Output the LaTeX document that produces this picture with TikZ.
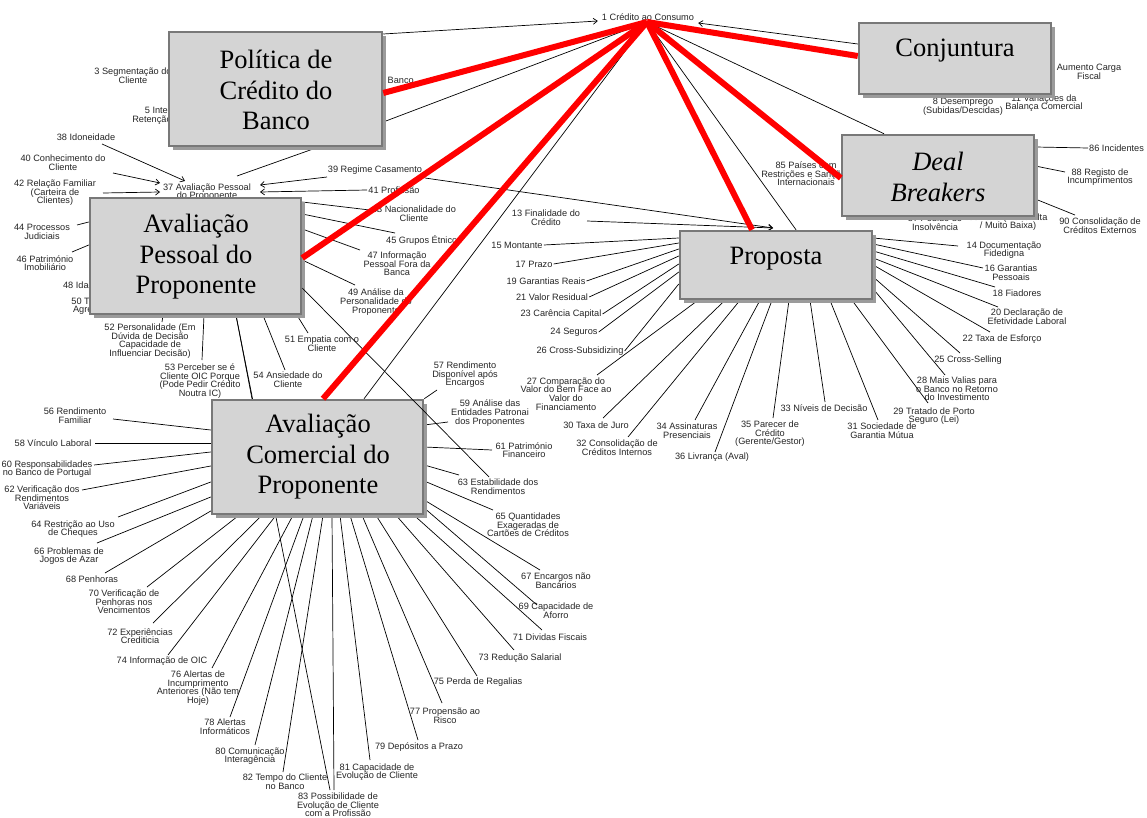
\documentclass[tikz,border=0pt]{standalone}
\usepackage{fontspec}
\setmainfont{Liberation Serif}
\newfontfamily\labfam{Liberation Sans}
\usetikzlibrary{shadows,arrows.meta}
\pgfdeclarelayer{background}
\pgfdeclarelayer{foreground}
\pgfsetlayers{background,main,foreground}
\definecolor{boxfill}{RGB}{212,212,212}
\definecolor{boxline}{RGB}{120,120,120}
\definecolor{shadowc}{RGB}{155,155,155}
\newcommand\labf{\labfam\fontsize{9.2}{8.6}\selectfont\lineskiplimit=-20pt\relax}
\newcommand\bigf{\fontsize{26.5}{30.5}\selectfont\lineskiplimit=-40pt\relax}
\begin{document}
\begin{tikzpicture}[x=1pt,y=-1pt,
  lab/.style={font=\labf, align=center, inner sep=1pt, text=black!85},
  conn/.style={draw=black, line width=0.7pt},
  arr/.style={conn, -{Straight Barb[length=4pt,width=6pt]}},
  redl/.style={draw=red, line width=6pt},
  bigbox/.style={draw=boxline, line width=2.5pt, fill=boxfill, inner sep=0pt,
     drop shadow={shadow xshift=4pt, shadow yshift=-4pt, fill=shadowc, opacity=1}},
  bigtext/.style={font=\bigf, align=center, inner sep=0pt}
]
\useasboundingbox (0,0) rectangle (1147,818);

% ---------- boxes ----------
\node[bigbox, minimum width=213pt, minimum height=114pt] (pol) at (275.5,89) {};
\node[bigbox, minimum width=192pt, minimum height=71pt] (con) at (955,58.5) {};
\node[bigbox, minimum width=192pt, minimum height=81pt] (deal) at (938,175.5) {};
\node[bigbox, minimum width=211pt, minimum height=116pt] (pp) at (195.5,256) {};
\node[bigbox, minimum width=192pt, minimum height=68pt] (pro) at (776,265) {};
\node[bigbox, minimum width=211pt, minimum height=114pt] (pc) at (317.5,457) {};

\node[bigtext] (polt) at (276,90) {Política de\\Crédito do\\Banco};
\node[bigtext] (cont) at (955,51) {Conjuntura};
\node[bigtext, font=\bigf\itshape] (dealt) at (938,177) {Deal\\Breakers};
\node[bigtext] (prot) at (776,259) {Proposta};
\node[bigtext] (ppt) at (196,257) {Avaliação\\Pessoal do\\Proponente};
\node[bigtext] (pct) at (318,457) {Avaliação\\Comercial do\\Proponente};

\coordinate (hub) at (647,22);
\coordinate (p12) at (773,228);

\begin{pgfonlayer}{background}
\fill[white] (0,0) rectangle (1147,818);
% ---------- labels ----------
\node[lab] (n1) at (648,17) {1 Crédito ao Consumo};
\node[lab] (l3) at (133,76) {3 Segmentação do\\Cliente};
\node[lab] (l5) at (174,116) {5 Interesse na\\Retenção do Cliente};
\node[lab, anchor=east] (l4) at (415,80) {Banco};
\node[lab] (l7) at (1089,72) {Aumento Carga\\Fiscal};
\node[lab] (l8) at (963,107) {8 Desemprego\\(Subidas/Descidas)};
\node[lab] (l11) at (1044,103) {11 Variações da\\Balança Comercial};
\node[lab] (l85) at (806,174) {85 Países com\\Restrições e Sanções\\Internacionais};
\node[lab, anchor=west] (l86) at (1088,148) {86 Incidentes};
\node[lab] (l88) at (1100,177) {88 Registo de\\Incumprimentos};
\node[lab] (l90) at (1100,226) {90 Consolidação de\\Créditos Externos};
\node[lab] (l87) at (935,223) {87 Pedido de\\Insolvência};
\node[lab] (l89) at (1008,222) {89 Taxa (Muito Alta\\/ Muito Baixa)};

\node[lab] (l37) at (207,192) {37 Avaliação Pessoal\\do Proponente};
\node[lab] (l38) at (86,137) {38 Idoneidade};
\node[lab] (l40) at (63,163) {40 Conhecimento do\\Cliente};
\node[lab] (l42) at (55,193) {42 Relação Familiar\\(Carteira de\\Clientes)};
\node[lab] (l39) at (375,170) {39 Regime Casamento};
\node[lab] (l41) at (394,190) {41 Profissão};
\node[lab] (l43) at (414,214) {43 Nacionalidade do\\Cliente};
\node[lab] (l45) at (424,240) {45 Grupos Étnicos};
\node[lab] (l47) at (397,264) {47 Informação\\Pessoal Fora da\\Banca};
\node[lab] (l49) at (376,302) {49 Análise da\\Personalidade do\\Proponente};
\node[lab] (l51) at (322,344) {51 Empatia com o\\Cliente};
\node[lab] (l54) at (288,380) {54 Ansiedade do\\Cliente};
\node[lab] (l52) at (150,341) {52 Personalidade (Em\\Dúvida de Decisão\\Capacidade de\\Influenciar Decisão)};
\node[lab] (l53) at (200,381) {53 Perceber se é\\Cliente OIC Porque\\(Pode Pedir Crédito\\Noutra IC)};
\node[lab] (l44) at (42,232) {44 Processos\\Judiciais};
\node[lab] (l46) at (45,263) {46 Património\\Imobiliário};
\node[lab] (l48) at (81,285) {48 Idade};
\node[lab] (l50) at (93,306) {50 Tipo de\\Agregado};

\node[lab] (l56) at (75,416) {56 Rendimento\\Familiar};
\node[lab] (l58) at (53,443) {58 Vínculo Laboral};
\node[lab] (l60) at (47,469) {60 Responsabilidades\\no Banco de Portugal};
\node[lab] (l62) at (42,498) {62 Verificação dos\\Rendimentos\\Variáveis};
\node[lab] (l64) at (73,529) {64 Restrição ao Uso\\de Cheques};
\node[lab] (l66) at (69,556) {66 Problemas de\\Jogos de Azar};
\node[lab] (l68) at (92,579) {68 Penhoras};
\node[lab] (l70) at (124,602) {70 Verificação de\\Penhoras nos\\Vencimentos};
\node[lab] (l72) at (140,636) {72 Experiências\\Crediticia};
\node[lab] (l74) at (162,661) {74 Informação de OIC};
\node[lab] (l76) at (198,688) {76 Alertas de\\Incumprimento\\Anteriores (Não tem\\Hoje)};
\node[lab] (l78) at (225,727) {78 Alertas\\Informáticos};
\node[lab] (l80) at (250,756) {80 Comunicação\\Interagência};
\node[lab] (l82) at (285,782) {82 Tempo do Cliente\\no Banco};
\node[lab] (l83) at (338,805) {83 Possibilidade de\\Evolução de Cliente\\com a Profissão};
\node[lab] (l81) at (377,772) {81 Capacidade de\\Evolução de Cliente};
\node[lab] (l79) at (419,747) {79 Depósitos a Prazo};
\node[lab] (l77) at (445,716) {77 Propensão ao\\Risco};
\node[lab] (l75) at (478,682) {75 Perda de Regalias};
\node[lab] (l73) at (520,658) {73 Redução Salarial};
\node[lab] (l71) at (550,637) {71 Dividas Fiscais};
\node[lab] (l69) at (556,611) {69 Capacidade de\\Aforro};
\node[lab] (l67) at (556,581) {67 Encargos não\\Bancários};
\node[lab] (l65) at (528,525) {65 Quantidades\\Exageradas de\\Cartões de Créditos};
\node[lab] (l63) at (498,487) {63 Estabilidade dos\\Rendimentos};
\node[lab] (l61) at (524,450) {61 Património\\Financeiro};
\node[lab] (l59) at (490,413) {59 Análise das\\Entidades Patronai\\dos Proponentes};
\node[lab] (l57) at (465,375) {57 Rendimento\\Disponível após\\Encargos};

\node[lab] (l13) at (546,218) {13 Finalidade do\\Crédito};
\node[lab] (l15) at (517,245) {15 Montante};
\node[lab] (l17) at (534,264) {17 Prazo};
\node[lab] (l19) at (546,281) {19 Garantias Reais};
\node[lab] (l21) at (552,297) {21 Valor Residual};
\node[lab] (l23) at (561,314) {23 Carência Capital};
\node[lab] (l24) at (574,332) {24 Seguros};
\node[lab] (l26) at (580,351) {26 Cross-Subsidizing};
\node[lab] (l27) at (566,394) {27 Comparação do\\Valor do Bem Face ao\\Valor do\\Financiamento};
\node[lab] (l30) at (596,425) {30 Taxa de Juro};
\node[lab] (l32) at (617,448) {32 Consolidação de\\Créditos Internos};
\node[lab] (l34) at (687,431) {34 Assinaturas\\Presenciais};
\node[lab] (l36) at (712,457) {36 Livrança (Aval)};
\node[lab] (l35) at (770,434) {35 Parecer de\\Crédito\\(Gerente/Gestor)};
\node[lab] (l33) at (824,408) {33 Níveis de Decisão};
\node[lab] (l31) at (882,431) {31 Sociedade de\\Garantia Mútua};
\node[lab] (l29) at (934,416) {29 Tratado de Porto\\Seguro (Lei)};
\node[lab] (l28) at (957,389) {28 Mais Valias para\\o Banco no Retorno\\do Investimento};
\node[lab] (l25) at (968,360) {25 Cross-Selling};
\node[lab] (l22) at (1002,339) {22 Taxa de Esforço};
\node[lab] (l20) at (1027,317) {20 Declaração de\\Efetividade Laboral};
\node[lab] (l18) at (1017,293) {18 Fiadores};
\node[lab] (l16) at (1011,273) {16 Garantias\\Pessoais};
\node[lab] (l14) at (1004,250) {14 Documentação\\Fidedigna};

% ---------- thin connectors ----------
\draw[arr] (pol.east |- 0,34) -- ([shift={(-3,4)}]n1.west);
\draw[arr] (con.west |- 0,44) -- ([shift={(3,6)}]n1.east);
\draw[conn] (pol.east |- 0,122) -- (hub);
\draw[conn] (hub) -- (deal.north -| 884,0);
\draw[conn] (hub) -- (pro.north -| 796,0);
\draw[conn] (hub) -- (pc.north -| 364,0);

\draw[conn] (deal.east |- 0,147) -- (l86.west);
\draw[conn] (deal.east |- 0,166) -- ([shift={(-35,-5)}]l88.center);
\draw[conn] (deal.east |- 0,199) -- ([shift={(-25,-11)}]l90.center);

\draw[arr] ([shift={(16,7)}]l38.center) -- ([shift={(-22,-11)}]l37.center);
\draw[arr] ([shift={(50,10)}]l40.center) -- ([shift={(-47,-9)}]l37.center);
\draw[arr] ([shift={(48,0)}]l42.center) -- ([shift={(-47,0)}]l37.center);
\draw[arr] ([shift={(-48,7)}]l39.center) -- ([shift={(53,-7)}]l37.center);
\draw[arr] (l41.west) -- ([shift={(53,0)}]l37.center);
\draw[conn] ([shift={(30,-16)}]l37.center) -- (pol.south -| 318,0);
\draw[arr] ([shift={(50,8)}]l39.center) -- (p12);
\draw[arr] ([shift={(41,3)}]l13.center) -- (p12);

\draw[conn] (pp.east |- 0,202) -- ([shift={(-36,-3)}]l43.center);
\draw[conn] (pp.east |- 0,214) -- ([shift={(-29,-7)}]l45.center);
\draw[conn] (pp.east |- 0,229) -- ([shift={(-37,-14)}]l47.center);
\draw[conn] (pp.east |- 0,260) -- ([shift={(-21,-17)}]l49.center);
\draw[conn] (pp.south -| 297,0) -- ([shift={(-14,-11)}]l51.center);
\draw[conn] (pp.south -| 263,0) -- ([shift={(-3,-10)}]l54.center);
\draw[conn] (pp.south -| 163,0) -- ([shift={(12,-19)}]l52.center);
\draw[conn] (pp.south -| 204,0) -- ([shift={(2,-21)}]l53.center);
\draw[conn] ([shift={(35,-7)}]l44.center) -- (pp.west |- 0,222);
\draw[conn] ([shift={(27,-11)}]l46.center) -- (pp.west |- 0,245);
\draw[conn] (pp.south -| 236,0) -- (pc.north -| 252,0);
\draw[conn] (pp.south -| 236,0) -- ([shift={(-8,-15)}]l83.center);

\draw[conn] (pc.north east) -- ([shift={(-28,15)}]l57.center);
\draw[conn] (pc.east |- 0,425) -- ([shift={(-42,9)}]l59.center);
\draw[conn] (pc.east |- 0,447) -- ([shift={(-32,0)}]l61.center);
\draw[conn] (pc.east |- 0,465) -- ([shift={(-39,-12)}]l63.center);
\draw[conn] (pc.east |- 0,481) -- ([shift={(-35,-15)}]l65.center);
\draw[conn] (pc.east |- 0,500) -- ([shift={(-16,-11)}]l67.center);
\draw[conn] (pc.east |- 0,508) -- ([shift={(-19,-6)}]l69.center);
\draw[conn] (pc.south -| 414,0) -- ([shift={(-8,-7)}]l71.center);
\draw[conn] (pc.south -| 396,0) -- ([shift={(-6,-8)}]l73.center);
\draw[conn] (pc.south -| 376,0) -- ([shift={(-1,-6)}]l75.center);
\draw[conn] (pc.south -| 362,0) -- ([shift={(-3,-13)}]l77.center);
\draw[conn] (pc.south -| 350,0) -- ([shift={(-1,-7)}]l79.center);
\draw[conn] (pc.south -| 340,0) -- ([shift={(-7,-12)}]l81.center);
\draw[conn] (pc.south -| 332,0) -- ([shift={(-4,-15)}]l83.center);
\draw[conn] (pc.south -| 323,0) -- ([shift={(-2,-10)}]l82.center);
\draw[conn] (pc.south -| 313,0) -- ([shift={(5,-11)}]l80.center);
\draw[conn] (pc.south -| 304,0) -- ([shift={(5,-10)}]l78.center);
\draw[conn] (pc.south -| 293,0) -- ([shift={(14,-20)}]l76.center);
\draw[conn] (pc.south -| 276,0) -- ([shift={(6,-6)}]l74.center);
\draw[conn] (pc.south -| 262,0) -- ([shift={(13,-13)}]l72.center);
\draw[conn] (pc.south -| 239,0) -- ([shift={(23,-15)}]l70.center);
\draw[conn] (pc.west |- 0,511) -- ([shift={(13,-6)}]l68.center);
\draw[conn] (pc.west |- 0,497) -- ([shift={(28,-13)}]l66.center);
\draw[conn] (pc.west |- 0,482) -- ([shift={(45,-12)}]l64.center);
\draw[conn] (pc.west |- 0,466) -- ([shift={(40,-8)}]l62.center);
\draw[conn] (pc.west |- 0,452) -- ([shift={(47,-4)}]l60.center);
\draw[conn] (pc.west |- 0,443) -- ([shift={(42,0)}]l58.center);
\draw[conn] (pc.west |- 0,430) -- ([shift={(38,3)}]l56.center);

\draw[conn] (l15.east) -- (pro.west |- 0,238);
\draw[conn] (l17.east) -- (pro.west |- 0,243);
\draw[conn] (l19.east) -- (pro.west |- 0,249);
\draw[conn] (l21.east) -- (pro.west |- 0,256);
\draw[conn] (l23.east) -- (pro.west |- 0,264);
\draw[conn] (l24.east) -- (pro.west |- 0,272);
\draw[conn] (l26.east) -- (pro.west |- 0,284);
\draw[conn] (pro.south -| 698,0) -- ([shift={(31,-19)}]l27.center);
\draw[conn] (pro.south -| 725,0) -- ([shift={(7,-7)}]l30.center);
\draw[conn] (pro.south -| 740,0) -- ([shift={(11,-11)}]l32.center);
\draw[conn] (pro.south -| 760,0) -- ([shift={(8,-11)}]l34.center);
\draw[conn] (pro.south -| 772,0) -- ([shift={(3,-5)}]l36.center);
\draw[conn] (pro.south -| 789,0) -- ([shift={(3,-16)}]l35.center);
\draw[conn] (pro.south -| 810,0) -- ([shift={(1,-6)}]l33.center);
\draw[conn] (pro.south -| 830,0) -- ([shift={(-4,-11)}]l31.center);
\draw[conn] (pro.south -| 852,0) -- ([shift={(-6,-13)}]l29.center);
\draw[conn] (pro.east |- 0,289) -- ([shift={(-12,-14)}]l28.center);
\draw[conn] (pro.east |- 0,277) -- ([shift={(-8,-7)}]l25.center);
\draw[conn] (pro.east |- 0,265) -- ([shift={(-12,-7)}]l22.center);
\draw[conn] (pro.east |- 0,258) -- ([shift={(-29,-10)}]l20.center);
\draw[conn] (pro.east |- 0,251) -- ([shift={(-22,-6)}]l18.center);
\draw[conn] (pro.east |- 0,244) -- ([shift={(-28,-5)}]l16.center);
\draw[conn] (pro.east |- 0,238) -- ([shift={(-46,-4)}]l14.center);
\end{pgfonlayer}

\draw[conn] (pp.east |- 0,288) -- ([shift={(-9,-10)}]l63.center);

\begin{pgfonlayer}{foreground}
\draw[redl] (hub) -- (pol.east |- 0,93);
\draw[redl] (hub) -- (con.west |- 0,56);
\draw[redl] (hub) -- (deal.west |- 0,178);
\draw[redl] (hub) -- (pro.north -| 752,0);
\draw[redl] (hub) -- (pp.east |- 0,258);
\draw[redl] (hub) -- (pc.north -| 323,0);
\end{pgfonlayer}
\end{tikzpicture}
\end{document}
